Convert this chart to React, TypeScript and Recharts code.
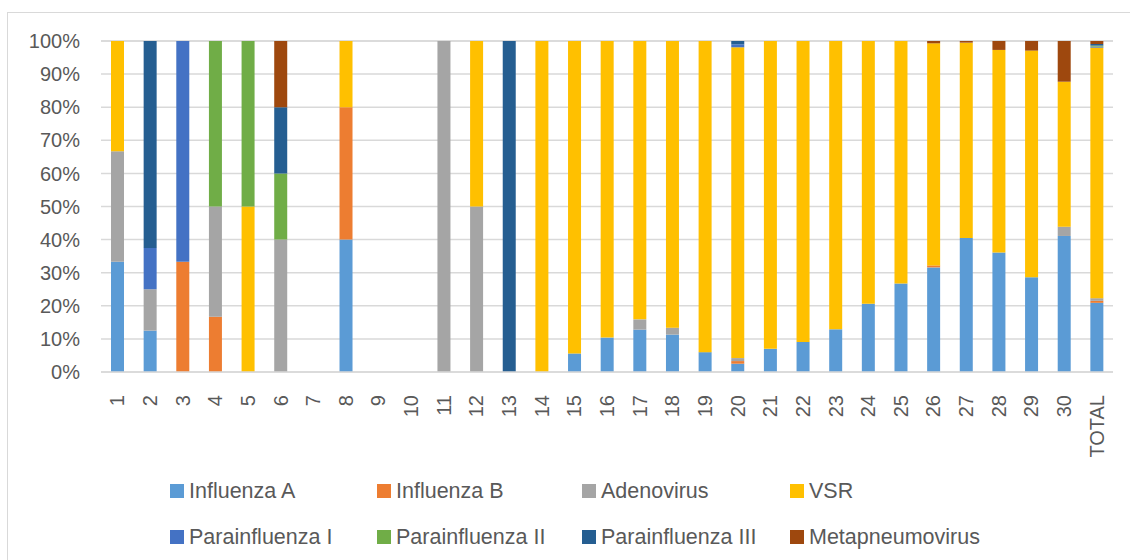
import { BarChart, Bar, XAxis, YAxis, CartesianGrid } from 'recharts';

// week labels on the x axis
const categories = [
  '1', '2', '3', '4', '5', '6', '7', '8', '9', '10',
  '11', '12', '13', '14', '15', '16', '17', '18', '19', '20',
  '21', '22', '23', '24', '25', '26', '27', '28', '29', '30', 'TOTAL',
];

// share of each virus per week, in %
const influenzaA = [33.3, 12.5, 0, 0, 0, 0, 0, 40, 0, 0, 0, 0, 0, 0, 5.6, 10.4, 12.8, 11.3, 6.0, 2.5, 7.0, 9.1, 12.9, 20.6, 26.7, 31.6, 40.5, 36.1, 28.6, 41.1, 20.9];
const influenzaB = [0, 0, 33.3, 16.7, 0, 0, 0, 40, 0, 0, 0, 0, 0, 0, 0, 0, 0, 0, 0, 0.8, 0, 0, 0, 0, 0, 0.6, 0, 0, 0, 0, 0.6];
const adenovirus = [33.4, 12.5, 0, 33.3, 0, 40, 0, 0, 0, 0, 100, 50, 0, 0, 0, 0, 3.1, 2.1, 0, 0.9, 0, 0, 0, 0, 0, 0, 0, 0, 0, 2.8, 0.8];
const vsr = [33.3, 0, 0, 0, 50, 0, 0, 20, 0, 0, 0, 50, 0, 100, 94.4, 89.6, 84.1, 86.6, 94.0, 93.9, 93.0, 90.9, 87.1, 79.4, 73.3, 67.1, 59.0, 61.2, 68.5, 43.8, 75.7];
const parainfluenza1 = [0, 12.5, 66.7, 0, 0, 0, 0, 0, 0, 0, 0, 0, 0, 0, 0, 0, 0, 0, 0, 0.9, 0, 0, 0, 0, 0, 0, 0, 0, 0, 0, 0.3];
const parainfluenza2 = [0, 0, 0, 50, 50, 20, 0, 0, 0, 0, 0, 0, 0, 0, 0, 0, 0, 0, 0, 0, 0, 0, 0, 0, 0, 0, 0, 0, 0, 0, 0.3];
const parainfluenza3 = [0, 62.5, 0, 0, 0, 20, 0, 0, 0, 0, 0, 0, 100, 0, 0, 0, 0, 0, 0, 1.0, 0, 0, 0, 0, 0, 0, 0, 0, 0, 0, 0.5];
const metapneumovirus = [0, 0, 0, 0, 0, 20, 0, 0, 0, 0, 0, 0, 0, 0, 0, 0, 0, 0, 0, 0, 0, 0, 0, 0, 0, 0.7, 0.5, 2.7, 2.9, 12.3, 0.9];

const yTicks = [0, 10, 20, 30, 40, 50, 60, 70, 80, 90, 100];

const SERIES = [
  { key: 'infA', name: 'Influenza A', color: '#5B9BD5', values: influenzaA },
  { key: 'infB', name: 'Influenza B', color: '#ED7D31', values: influenzaB },
  { key: 'adeno', name: 'Adenovirus', color: '#A5A5A5', values: adenovirus },
  { key: 'vsr', name: 'VSR', color: '#FFC000', values: vsr },
  { key: 'para1', name: 'Parainfluenza I', color: '#4472C4', values: parainfluenza1 },
  { key: 'para2', name: 'Parainfluenza II', color: '#70AD47', values: parainfluenza2 },
  { key: 'para3', name: 'Parainfluenza III', color: '#255E91', values: parainfluenza3 },
  { key: 'meta', name: 'Metapneumovirus', color: '#9E480E', values: metapneumovirus },
];

const FONT = '"Liberation Sans", Arial, sans-serif';
const TEXT = '#595959';
const GRID = '#d9d9d9';

const data = categories.map((cat, i) => {
  const row: Record<string, string | number> = { cat };
  SERIES.forEach((s) => {
    row[s.key] = s.values[i];
  });
  return row;
});

function XTick({ x, y, payload }: any) {
  return (
    <text
      transform={`translate(${x},${y + 15}) rotate(-90)`}
      textAnchor="end"
      dy="0.35em"
      fontSize={20}
      fill={TEXT}
      fontFamily={FONT}
    >
      {payload.value}
    </text>
  );
}

const legendCols = [170, 377, 582, 790];
const legendRows = [491, 537];

export default function App() {
  return (
    <div
      style={{
        position: 'absolute',
        left: 0,
        top: 0,
        width: 1130,
        height: 560,
        overflow: 'hidden',
        background: '#fff',
        fontFamily: FONT,
      }}
    >
      <div
        style={{
          position: 'absolute',
          left: 7,
          top: 12,
          width: 1140,
          height: 560,
          border: `1px solid ${GRID}`,
        }}
      />
      <div style={{ position: 'absolute', left: 0, top: 0 }}>
        <BarChart
          width={1130}
          height={560}
          data={data}
          margin={{ top: 41, right: 17, left: 0, bottom: 98 }}
          barSize={13}
        >
          <CartesianGrid vertical={false} stroke={GRID} strokeWidth={1.5} />
          <XAxis
            dataKey="cat"
            interval={0}
            height={90}
            tickLine={false}
            axisLine={{ stroke: GRID, strokeWidth: 1.5 }}
            tick={<XTick />}
          />
          <YAxis
            width={101}
            domain={[0, 100]}
            ticks={yTicks}
            tickFormatter={(v: number) => `${v}%`}
            axisLine={false}
            tickLine={false}
            tickMargin={15}
            tick={{ fontSize: 20, fill: TEXT, fontFamily: FONT }}
          />
          {SERIES.map((s) => (
            <Bar
              key={s.key}
              dataKey={s.key}
              name={s.name}
              stackId="a"
              fill={s.color}
              isAnimationActive={false}
            />
          ))}
        </BarChart>
      </div>
      {SERIES.map((s, i) => (
        <div
          key={s.key}
          style={{
            position: 'absolute',
            left: legendCols[i % 4],
            top: legendRows[Math.floor(i / 4)] - 12,
            height: 24,
            display: 'flex',
            alignItems: 'center',
            gap: 5,
            fontSize: 21.5,
            color: TEXT,
            whiteSpace: 'nowrap',
          }}
        >
          <span style={{ width: 14, height: 14, background: s.color, display: 'inline-block' }} />
          <span>{s.name}</span>
        </div>
      ))}
    </div>
  );
}
